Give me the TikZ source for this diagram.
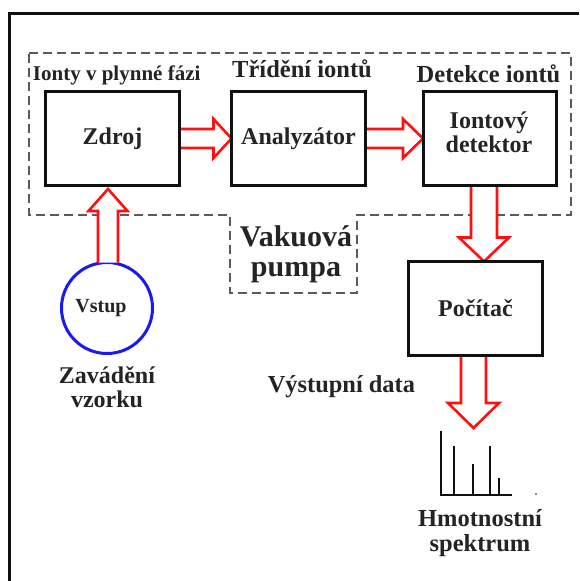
\documentclass[tikz,border=0pt]{standalone}
\usepackage{fontspec}
\setmainfont{Liberation Serif}
\usetikzlibrary{calc}
\definecolor{txtc}{HTML}{242424}
\definecolor{boxc}{HTML}{101010}
\definecolor{arrred}{HTML}{FF1010}
\definecolor{circblue}{HTML}{1A1AF0}
\definecolor{dashc}{HTML}{5A5A5A}
\newcommand\myfs[1]{\fontsize{#1}{#1}\selectfont\bfseries}
% horizontal block arrow: from, tip, shaft half, head half, head length
\newcommand\hblk[5]{\draw[blockarr] ($(#1)+(0,#3)$) -- ($(#2)+({-(#5)},#3)$) -- ($(#2)+({-(#5)},#4)$) -- (#2) -- ($(#2)+({-(#5)},{-(#4)})$) -- ($(#2)+({-(#5)},{-(#3)})$) -- ($(#1)+(0,{-(#3)})$);}
% vertical block arrow: from, tip, shaft half, head half, head length (negative = upward)
\newcommand\vblk[5]{\draw[blockarr] ($(#1)+({-(#3)},0)$) -- ($(#2)+({-(#3)},{-(#5)})$) -- ($(#2)+({-(#4)},{-(#5)})$) -- (#2) -- ($(#2)+(#4,{-(#5)})$) -- ($(#2)+(#3,{-(#5)})$) -- ($(#1)+(#3,0)$);}
\begin{document}
\begin{tikzpicture}[x=1pt,y=-1pt,
  box/.style={draw=boxc, line width=3pt, minimum width=134pt, minimum height=94pt, inner sep=0pt, outer sep=0pt, font=\myfs{24}, text=txtc},
  txt/.style={text=txtc, inner sep=0pt, outer sep=0pt},
  blockarr/.style={draw=arrred, line width=2.6pt, line join=miter, fill=white},
  vac/.style={draw=dashc, line width=1.4pt, dash pattern=on 9pt off 5pt}]
\useasboundingbox (0,0) rectangle (579,581);
% outer frame (only top and left edges visible)
\draw[boxc, line width=3.5pt, line join=miter] (9.5,581) -- (9.5,13.3) -- (579,13.3);
% vacuum region
\draw[vac] (29,53) -- (571,53) -- (571,215) -- (357,215) -- (357,293) -- (230,293) -- (230,215) -- (29,215) -- cycle;
% nodes
\node[box] (zdroj) at (112.5,138.5) {Zdroj};
\node[box] (anal) at (298.5,138.5) {Analyzátor};
\node[box, minimum width=133pt] (det) at (489.5,138.5) {};
\node[txt, align=center, font=\myfs{24}] (dett) at (489,132.5) {\baselineskip=25pt Iontový\\detektor};
\node[box] (poc) at (475.5,308.5) {Počítač};
\node[draw=circblue, line width=3pt, circle, minimum size=91pt, inner sep=0pt, outer sep=0pt] (vstup) at (107,308) {};
\node[txt, font=\myfs{20}, anchor=base] (vstupt) at (101,312) {Vstup};
% labels
\node[txt, font=\myfs{21}, anchor=base] (ionty) at (116.7,80) {Ionty v plynné fázi};
\node[txt, font=\myfs{24.5}, anchor=base] (trid) at (302,77) {Třídění iontů};
\node[txt, font=\myfs{24.5}, anchor=base] (detek) at (488.5,82) {Detekce iontů};
\node[txt, font=\myfs{30}, align=center] (pumpa) at (296,254) {\baselineskip=28pt Vakuová\\pumpa};
\node[txt, font=\myfs{24}, align=center] (zav) at (107,387.6) {\baselineskip=26pt Zavádění\\vzorku};
\node[txt, font=\myfs{24.4}, anchor=base east] (vyst) at (415,392) {Výstupní data};
\node[txt, font=\myfs{24.5}, align=center] (hmot) at (480,533.2) {\baselineskip=24pt Hmotnostní\\spektrum};
% arrow anchor coordinates
\coordinate (ax3) at (484,0);
\coordinate (ax4) at (473.5,0);
\coordinate (ax5) at (108,0);
\coordinate (a3s) at (det.south -| ax3);
\coordinate (a3t) at (poc.north -| ax3);
\coordinate (a4s) at (poc.south -| ax4);
\coordinate (spec) at (473.5,428);
\coordinate (a5s) at (vstup.north -| ax5);
\coordinate (a5t) at ($(zdroj.south -| ax5)+(0,3.5)$);
% block arrows
\hblk{zdroj.east}{anal.west}{9.5}{19.5}{18}
\hblk{anal.east}{det.west}{9.5}{19.5}{20}
\vblk{a3s}{a3t}{13}{25}{24}
\vblk{a4s}{spec}{12.5}{25.5}{25}
\vblk{a5s}{a5t}{10}{19.5}{-22}
% redraw box borders on top
\draw[boxc, line width=3pt] (zdroj.south west) rectangle (zdroj.north east);
\draw[boxc, line width=3pt] (anal.south west) rectangle (anal.north east);
\draw[boxc, line width=3pt] (det.south west) rectangle (det.north east);
\draw[boxc, line width=3pt] (poc.south west) rectangle (poc.north east);
% mass spectrum
\draw[boxc, line width=2.6pt, line join=miter] (441,431) -- (441,495) -- (512,495);
\draw[boxc, line width=1.8pt] (454,495) -- (454,446) (473,495) -- (473,464) (490,495) -- (490,446) (499,495) -- (499,478);
\fill[boxc] (536,494) circle (0.8);
\end{tikzpicture}
\end{document}
